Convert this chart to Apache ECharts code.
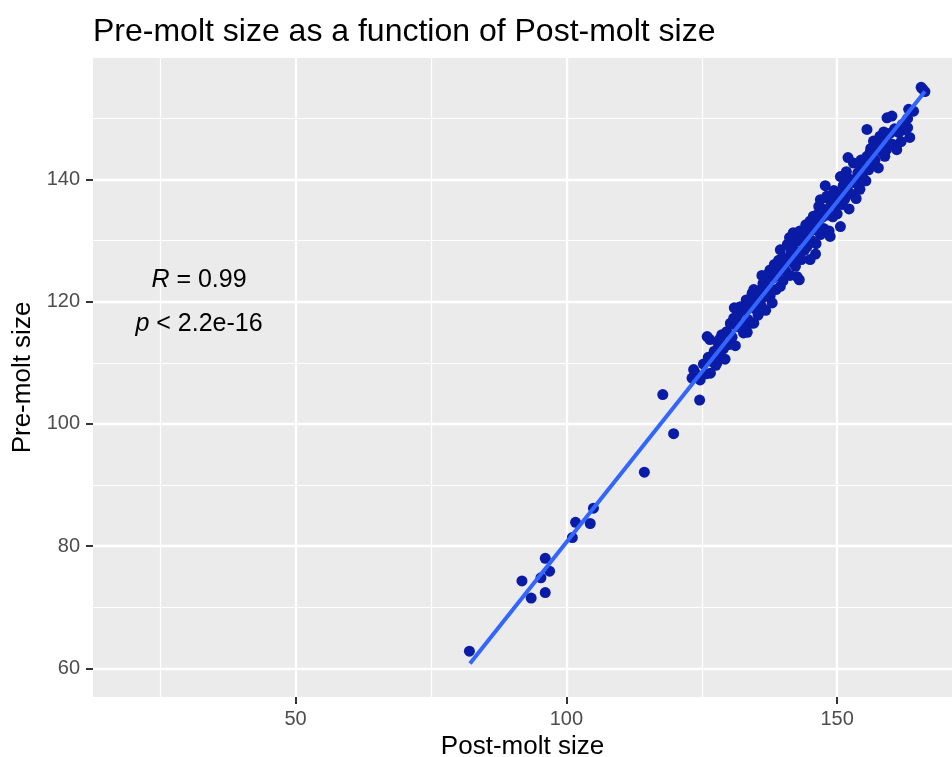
<!DOCTYPE html>
<html>
<head>
<meta charset="utf-8">
<script src="https://cdn.jsdelivr.net/npm/echarts@6/dist/echarts.min.js"></script>
<style>
html, body { margin: 0; padding: 0; background: #fff; }
#chart { width: 952px; height: 757px; }
</style>
</head>
<body>
<div id="chart"></div>
<script>
// readings: post-molt size (x) and pre-molt size (y)
var postMolt = [
  82.1, 91.8, 93.5, 96.1, 96.1, 96.9, 95.3, 101.1, 101.7, 104.4, 105.0,
  114.4, 117.8, 119.8, 124.6, 123.8, 123.2, 126.6,
  125.3, 125.8, 126.2, 126.5, 126.9, 127.3, 127.6, 128.0, 128.3, 128.7, 129.0, 129.3, 129.6, 130.0, 130.3, 126.0, 127.8, 129.0, 130.3, 124.7, 123.5,
  130.6, 130.9, 131.2, 131.5, 131.8, 132.1, 132.4, 132.7, 133.0, 133.2, 133.5, 133.8, 134.1, 134.3, 134.6, 134.6, 134.9, 135.2, 131.0, 133.4,
  135.4, 135.7, 136.0, 136.3, 136.5, 136.8, 137.1, 137.3, 137.6, 137.6, 137.9, 138.2, 138.4, 138.7, 139.0, 139.2, 139.5, 139.5, 139.8, 140.0, 136.1, 138.0,
  140.3, 140.5, 140.8, 141.0, 141.3, 141.5, 141.9, 142.1, 142.3, 142.6, 142.6, 142.9, 143.1, 143.4, 143.7, 143.9, 144.2, 144.4, 144.7, 145.0, 145.0, 143.0, 141.2,
  145.3, 145.6, 145.8, 146.1, 146.3, 146.6, 146.9, 146.9, 147.2, 147.5, 147.7, 148.0, 148.1, 148.3, 148.5, 148.7, 148.9, 149.2, 149.4, 149.7, 150.0, 146.0, 147.8,
  150.3, 150.6, 150.6, 150.9, 151.1, 151.4, 151.7, 151.9, 152.2, 152.5, 152.7, 153.0, 153.2, 153.5, 153.8, 154.0, 154.2, 154.4, 154.7, 155.0, 152.0,
  155.3, 155.5, 155.5, 155.8, 156.1, 156.4, 156.7, 157.0, 157.3, 157.6, 157.9, 158.2, 158.5, 158.8, 159.2, 159.5, 159.8, 159.1,
  160.2, 160.6, 161.0, 161.4, 162.0, 162.5, 163.0, 163.4, 164.1, 165.5, 166.2, 165.8, 161.8, 160.1, 163.2, 163.0,
  128.4, 131.4, 134.0, 136.6, 139.3, 141.7, 144.0, 146.4, 149.0, 151.5, 153.9, 156.2, 158.6
];
var preMolt = [
  62.8, 74.3, 71.5, 72.4, 78.0, 75.9, 74.8, 81.4, 83.9, 83.7, 86.2,
  92.1, 104.8, 98.4, 103.9, 108.3, 107.5, 108.3,
  109.8, 108.2, 110.9, 113.8, 110.2, 111.9, 109.6, 113.2, 111.4, 114.6, 112.3, 110.6, 115.1, 113.0, 116.4, 114.3, 110.0, 112.7, 116.5, 107.2, 108.9,
  114.2, 117.3, 112.8, 115.9, 118.1, 119.2, 116.0, 114.9, 118.6, 120.3, 117.1, 119.6, 116.5, 121.4, 122.0, 116.5, 118.8, 120.6, 119.0, 115.0,
  117.8, 121.9, 119.3, 123.0, 120.8, 118.6, 122.4, 124.6, 125.2, 120.9, 121.7, 123.9, 126.1, 122.0, 124.7, 126.8, 128.5, 122.5, 125.3, 123.4, 124.3, 119.8,
  127.2, 125.0, 129.4, 126.6, 124.3, 128.3, 131.3, 127.5, 125.8, 124.1, 129.9, 128.1, 131.6, 126.9, 130.2, 128.4, 132.6, 129.0, 131.1, 126.9, 133.2, 123.6, 130.5,
  130.0, 134.0, 131.8, 129.5, 133.4, 135.6, 136.7, 131.0, 133.8, 132.0, 135.1, 137.0, 137.3, 134.2, 131.6, 130.7, 135.8, 133.9, 138.2, 136.0, 134.4, 127.8, 139.0,
  137.5, 140.5, 132.3, 135.9, 139.0, 136.8, 141.3, 138.3, 135.2, 140.0, 137.6, 142.7, 139.5, 136.9, 141.1, 138.9, 138.4, 143.2, 140.3, 142.0, 143.6,
  139.8, 143.8, 148.2, 141.6, 144.5, 142.6, 146.3, 143.2, 145.4, 141.9, 147.1, 144.6, 146.2, 143.8, 150.1, 146.0, 147.6, 144.9,
  145.8, 148.3, 144.9, 147.7, 149.0, 148.2, 150.0, 146.9, 151.2, 155.1, 154.4, 154.8, 146.2, 150.4, 151.5, 148.5,
  114.0, 117.2, 120.5, 123.1, 126.4, 129.0, 131.5, 134.3, 137.2, 139.9, 142.6, 145.1, 147.8
];

// fitted line, read at both ends
var fitX = [82.2, 166.2];
var fitY = [60.8, 154.4];

var xTicks = [50, 100, 150];
var xMinor = [25, 75, 125];
var yTicks = [60, 80, 100, 120, 140];
var yMinor = [70, 90, 110, 130, 150];

var font = '"Liberation Sans", Arial, Helvetica, sans-serif';

var points = postMolt.map(function (x, i) { return [x, preMolt[i]]; });
var fitLine = fitX.map(function (x, i) { return [x, fitY[i]]; });

function gridLines(vals, key, width) {
    return vals.map(function (v) {
        var d = {};
        d[key] = v;
        d.lineStyle = { color: '#fff', width: width, type: 'solid' };
        return d;
    });
}

var chart = echarts.init(document.getElementById('chart'));
chart.setOption({
    animation: false,
    backgroundColor: '#fff',
    title: {
        text: 'Pre-molt size as a function of Post-molt size',
        left: 88,
        top: 11,
        textStyle: { fontFamily: font, fontSize: 32, fontWeight: 'normal', color: '#000' }
    },
    grid: {
        left: 93, right: 0, top: 58, bottom: 60,
        outerBoundsMode: 'none',
        show: true, backgroundColor: '#EBEBEB', borderWidth: 0
    },
    xAxis: {
        type: 'value',
        min: 12.6,
        max: 171.2,
        name: 'Post-molt size',
        nameLocation: 'middle',
        nameGap: 36,
        nameTextStyle: { fontFamily: font, fontSize: 26, color: '#000' },
        axisLine: { show: false },
        axisTick: { show: true, customValues: xTicks, length: 7, lineStyle: { color: '#333', width: 2 } },
        axisLabel: { customValues: xTicks, margin: 12, fontFamily: font, fontSize: 20, color: '#4D4D4D' },
        splitLine: { show: false }
    },
    yAxis: {
        type: 'value',
        min: 55.3,
        max: 159.9,
        name: 'Pre-molt size',
        nameLocation: 'middle',
        nameGap: 49,
        nameTextStyle: { fontFamily: font, fontSize: 26, color: '#000' },
        axisLine: { show: false },
        axisTick: { show: true, customValues: yTicks, length: 7, lineStyle: { color: '#333', width: 2 } },
        axisLabel: { customValues: yTicks, margin: 13, fontFamily: font, fontSize: 20, color: '#4D4D4D' },
        splitLine: { show: false }
    },
    graphic: [
        {
            type: 'text', x: 199, y: 280, z: 10,
            style: {
                text: '{i|R} = 0.99',
                rich: { i: { fontStyle: 'italic', fontFamily: font, fontSize: 25, fill: '#000' } },
                fontFamily: font, fontSize: 25, fill: '#000',
                align: 'center', verticalAlign: 'middle'
            }
        },
        {
            type: 'text', x: 199, y: 324, z: 10,
            style: {
                text: '{i|p} < 2.2e-16',
                rich: { i: { fontStyle: 'italic', fontFamily: font, fontSize: 25, fill: '#000' } },
                fontFamily: font, fontSize: 25, fill: '#000',
                align: 'center', verticalAlign: 'middle'
            }
        }
    ],
    series: [
        {
            // panel grid lines
            type: 'line',
            data: [],
            z: 1,
            silent: true,
            markLine: {
                z: 1,
                silent: true,
                symbol: ['none', 'none'],
                label: { show: false },
                data: gridLines(xMinor, 'xAxis', 1.2)
                    .concat(gridLines(yMinor, 'yAxis', 1.2))
                    .concat(gridLines(xTicks, 'xAxis', 2.3))
                    .concat(gridLines(yTicks, 'yAxis', 2.3))
            }
        },
        {
            type: 'scatter',
            data: points,
            z: 3,
            symbolSize: 11,
            itemStyle: { color: '#0a1ba5', opacity: 1 }
        },
        {
            type: 'line',
            data: fitLine,
            z: 4,
            symbol: 'none',
            lineStyle: { color: '#3366FF', width: 4 }
        }
    ]
});
</script>
</body>
</html>
